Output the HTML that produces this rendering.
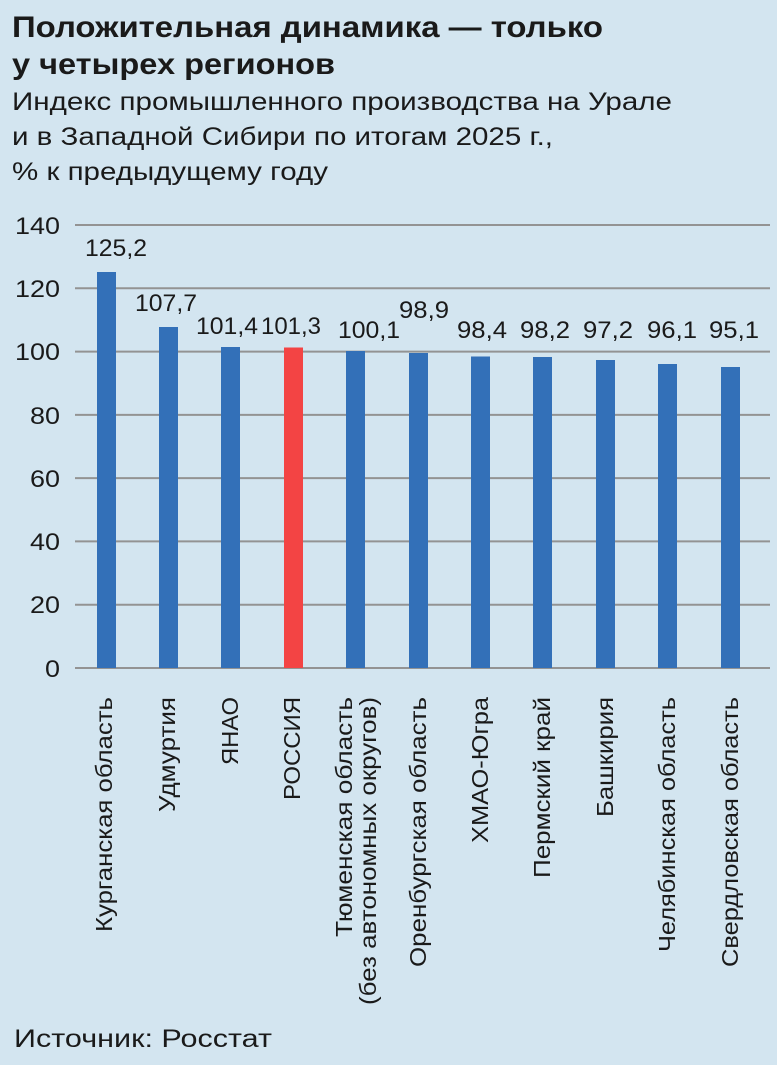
<!DOCTYPE html><html><head><meta charset="utf-8"><style>
body{margin:0;width:777px;height:1060px;background:#d3e5f0;overflow:hidden;font-family:"Liberation Sans",sans-serif;color:#1a1a1a}
</style></head><body>
<svg width="777" height="1060" xmlns="http://www.w3.org/2000/svg" font-family="Liberation Sans, sans-serif" fill="#1a1a1a">
<text x="12" y="37" font-size="30" font-weight="bold" textLength="591" lengthAdjust="spacingAndGlyphs">Положительная динамика — только</text>
<text x="12" y="74" font-size="30" font-weight="bold" textLength="323" lengthAdjust="spacingAndGlyphs">у четырех регионов</text>
<text x="12" y="110" font-size="25" textLength="660" lengthAdjust="spacingAndGlyphs">Индекс промышленного производства на Урале</text>
<text x="12" y="145" font-size="25" textLength="541" lengthAdjust="spacingAndGlyphs">и в Западной Сибири по итогам 2025 г.,</text>
<text x="12" y="180" font-size="25" textLength="316" lengthAdjust="spacingAndGlyphs">% к предыдущему году</text>
<g stroke="#939393" stroke-width="2">
<line x1="75" x2="770" y1="225" y2="225"/><line x1="75" x2="770" y1="288.3" y2="288.3"/><line x1="75" x2="770" y1="351.6" y2="351.6"/><line x1="75" x2="770" y1="414.9" y2="414.9"/><line x1="75" x2="770" y1="478.1" y2="478.1"/><line x1="75" x2="770" y1="541.4" y2="541.4"/><line x1="75" x2="770" y1="604.7" y2="604.7"/><line x1="75" x2="770" y1="668" y2="668"/>
</g>
<g font-size="24" text-anchor="end">
<text x="60" y="234" textLength="45" lengthAdjust="spacingAndGlyphs">140</text><text x="60" y="297" textLength="45" lengthAdjust="spacingAndGlyphs">120</text><text x="60" y="360" textLength="45" lengthAdjust="spacingAndGlyphs">100</text><text x="60" y="424" textLength="30" lengthAdjust="spacingAndGlyphs">80</text><text x="60" y="487" textLength="30" lengthAdjust="spacingAndGlyphs">60</text><text x="60" y="550" textLength="30" lengthAdjust="spacingAndGlyphs">40</text><text x="60" y="613" textLength="30" lengthAdjust="spacingAndGlyphs">20</text><text x="60" y="677" textLength="15" lengthAdjust="spacingAndGlyphs">0</text>
</g>
<g fill="#3370b8">
<rect x="97" y="272" width="19" height="396"/>
<rect x="159" y="327" width="19" height="341"/>
<rect x="221" y="347" width="19" height="321"/>
<rect x="284" y="347.5" width="19" height="320.5" fill="#f34444"/>
<rect x="346" y="351" width="19" height="317"/>
<rect x="409" y="353" width="19" height="315"/>
<rect x="471" y="356.5" width="19" height="311.5"/>
<rect x="533" y="357" width="19" height="311"/>
<rect x="596" y="360" width="19" height="308"/>
<rect x="658" y="364" width="19" height="304"/>
<rect x="721" y="367" width="19" height="301"/>
</g>
<g font-size="24">
<text x="85" y="256" textLength="62" lengthAdjust="spacingAndGlyphs">125,2</text><text x="135" y="311" textLength="62" lengthAdjust="spacingAndGlyphs">107,7</text><text x="196" y="334" textLength="62" lengthAdjust="spacingAndGlyphs">101,4</text><text x="261" y="334" textLength="60" lengthAdjust="spacingAndGlyphs">101,3</text><text x="338" y="338" textLength="62" lengthAdjust="spacingAndGlyphs">100,1</text><text x="399" y="318" textLength="50" lengthAdjust="spacingAndGlyphs">98,9</text><text x="457" y="338" textLength="50" lengthAdjust="spacingAndGlyphs">98,4</text><text x="520" y="338" textLength="50" lengthAdjust="spacingAndGlyphs">98,2</text><text x="583" y="338" textLength="50" lengthAdjust="spacingAndGlyphs">97,2</text><text x="647" y="338" textLength="50" lengthAdjust="spacingAndGlyphs">96,1</text><text x="709" y="338" textLength="50" lengthAdjust="spacingAndGlyphs">95,1</text>
</g>
<g font-size="23" text-anchor="end">
<text transform="translate(112,697) rotate(-90)" textLength="235" lengthAdjust="spacingAndGlyphs">Курганская область</text>
<text transform="translate(175,697) rotate(-90)" textLength="115" lengthAdjust="spacingAndGlyphs">Удмуртия</text>
<text transform="translate(238,697) rotate(-90)" textLength="68" lengthAdjust="spacingAndGlyphs">ЯНАО</text>
<text transform="translate(300,697) rotate(-90)" textLength="103" lengthAdjust="spacingAndGlyphs">РОССИЯ</text>
<text transform="translate(352,697) rotate(-90)" textLength="240" lengthAdjust="spacingAndGlyphs">Тюменская область</text>
<text transform="translate(376,697) rotate(-90)" textLength="308" lengthAdjust="spacingAndGlyphs">(без автономных округов)</text>
<text transform="translate(426,697) rotate(-90)" textLength="270" lengthAdjust="spacingAndGlyphs">Оренбургская область</text>
<text transform="translate(488,697) rotate(-90)" textLength="146" lengthAdjust="spacingAndGlyphs">ХМАО-Югра</text>
<text transform="translate(550,697) rotate(-90)" textLength="181" lengthAdjust="spacingAndGlyphs">Пермский край</text>
<text transform="translate(613,697) rotate(-90)" textLength="120" lengthAdjust="spacingAndGlyphs">Башкирия</text>
<text transform="translate(675,697) rotate(-90)" textLength="255" lengthAdjust="spacingAndGlyphs">Челябинская область</text>
<text transform="translate(738,697) rotate(-90)" textLength="270" lengthAdjust="spacingAndGlyphs">Свердловская область</text>
</g>
<text x="14" y="1047" font-size="25" textLength="258" lengthAdjust="spacingAndGlyphs">Источник: Росстат</text>
</svg>
</body></html>
